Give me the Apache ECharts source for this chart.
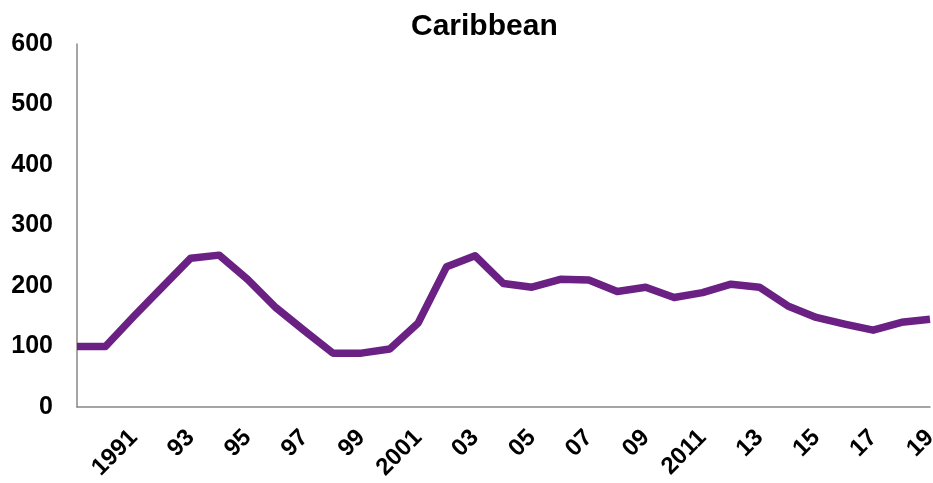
<!DOCTYPE html>
<html><head><meta charset="utf-8">
<script src="https://cdn.jsdelivr.net/npm/echarts@6/dist/echarts.min.js"></script>
<style>html,body{margin:0;padding:0;background:#fff}#c{width:933px;height:483px}</style>
</head><body><div id="c"></div>
<script>
var years = [1989,1990,1991,1992,1993,1994,1995,1996,1997,1998,1999,2000,2001,2002,2003,2004,2005,2006,2007,2008,2009,2010,2011,2012,2013,2014,2015,2016,2017,2018,2019];
var values = [100,100,150,198,246,251,211,164,126,89,89,96,139,232,250,204,198,211,210,191,198,181,189,203,198,167,148,137,127,140,145];
var tickLabels = {1991:'1991',1993:'93',1995:'95',1997:'97',1999:'99',2001:'2001',2003:'03',2005:'05',2007:'07',2009:'09',2011:'2011',2013:'13',2015:'15',2017:'17',2019:'19'};
var yTicks = [0,100,200,300,400,500,600];
var chart = echarts.init(document.getElementById('c'));
chart.setOption({
  animation:false,
  title:{text:'Caribbean',left:406,top:7,textStyle:{fontFamily:'Liberation Sans',fontWeight:'bold',fontSize:30,color:'#000'}},
  grid:{left:77,right:3,top:44,bottom:76,outerBoundsMode:'none',containLabel:false},
  xAxis:{type:'category',data:years.map(String),boundaryGap:false,
    axisLine:{lineStyle:{color:'#888',width:1.5}},axisTick:{show:false},
    axisLabel:{interval:0,rotate:45,margin:27,fontFamily:'Liberation Sans',fontWeight:'bold',fontSize:24,color:'#000',
      formatter:function(v){return tickLabels[v]||'';}},
    splitLine:{show:false}},
  yAxis:{type:'value',min:yTicks[0],max:yTicks[yTicks.length-1],interval:100,
    axisLine:{show:true,lineStyle:{color:'#888',width:1.5}},axisTick:{show:false},
    axisLabel:{margin:24,fontFamily:'Liberation Sans',fontWeight:'bold',fontSize:25,color:'#000'},
    splitLine:{show:false}},
  series:[{type:'line',data:values,symbol:'none',lineStyle:{color:'#6B2183',width:7.5,join:'round'}}]
});
</script></body></html>
